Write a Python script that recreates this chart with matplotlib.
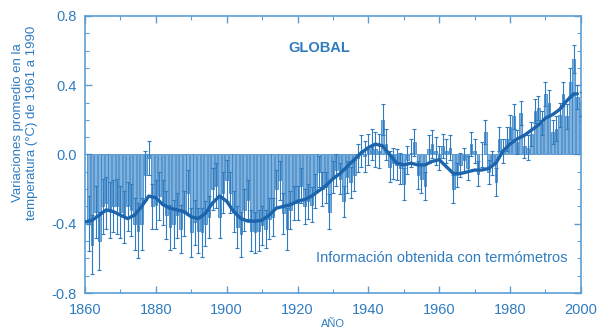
import matplotlib.pyplot as plt
import numpy as np

# annual global temperature anomalies (deg C, relative to 1961-1990), 1861-2000
years = list(range(1861, 2001))
anomaly = [
    -0.40, -0.52, -0.33, -0.50, -0.30, -0.28, -0.32, -0.30, -0.30, -0.33,
    -0.36, -0.30, -0.32, -0.40, -0.44, -0.40, -0.12, -0.02, -0.30, -0.29,
    -0.24, -0.28, -0.35, -0.42, -0.40, -0.35, -0.43, -0.34, -0.22, -0.45,
    -0.39, -0.44, -0.45, -0.40, -0.36, -0.20, -0.18, -0.36, -0.22, -0.15,
    -0.22, -0.33, -0.42, -0.46, -0.32, -0.26, -0.44, -0.45, -0.44, -0.41,
    -0.43, -0.37, -0.36, -0.20, -0.15, -0.34, -0.43, -0.32, -0.28, -0.28,
    -0.18, -0.30, -0.27, -0.29, -0.21, -0.10, -0.20, -0.19, -0.33, -0.13,
    -0.09, -0.14, -0.27, -0.13, -0.16, -0.12, -0.02, 0.02, -0.01, 0.03,
    0.06, 0.03, 0.02, 0.20, 0.06, -0.07, -0.05, -0.06, -0.08, -0.17,
    -0.03, 0.01, 0.07, -0.12, -0.14, -0.18, 0.03, 0.06, 0.02, -0.02,
    0.05, 0.02, 0.04, -0.20, -0.12, -0.06, -0.03, -0.08, 0.06, 0.02,
    -0.11, 0.00, 0.13, -0.10, -0.05, -0.16, 0.09, 0.02, 0.09, 0.16,
    0.22, 0.07, 0.24, 0.05, 0.04, 0.12, 0.25, 0.27, 0.18, 0.35,
    0.30, 0.13, 0.15, 0.23, 0.35, 0.22, 0.42, 0.55, 0.33, 0.29,
]
# half-width of the uncertainty range for each year
uncert = [
    0.16, 0.17, 0.15, 0.17, 0.16, 0.15, 0.16, 0.15, 0.16, 0.15,
    0.15, 0.14, 0.15, 0.15, 0.16, 0.15, 0.14, 0.10, 0.13, 0.14,
    0.14, 0.13, 0.14, 0.13, 0.14, 0.13, 0.14, 0.13, 0.13, 0.14,
    0.13, 0.13, 0.14, 0.13, 0.12, 0.12, 0.13, 0.12, 0.12, 0.12,
    0.12, 0.12, 0.12, 0.13, 0.12, 0.11, 0.12, 0.12, 0.12, 0.11,
    0.11, 0.12, 0.11, 0.11, 0.11, 0.12, 0.12, 0.11, 0.10, 0.10,
    0.10, 0.10, 0.10, 0.10, 0.10, 0.09, 0.10, 0.09, 0.10, 0.09,
    0.09, 0.09, 0.09, 0.09, 0.09, 0.09, 0.08, 0.09, 0.09, 0.09,
    0.09, 0.10, 0.10, 0.09, 0.09, 0.09, 0.09, 0.09, 0.09, 0.09,
    0.08, 0.08, 0.08, 0.08, 0.08, 0.08, 0.08, 0.08, 0.08, 0.07,
    0.07, 0.07, 0.07, 0.08, 0.07, 0.07, 0.07, 0.07, 0.07, 0.07,
    0.07, 0.07, 0.07, 0.07, 0.07, 0.08, 0.07, 0.07, 0.07, 0.07,
    0.07, 0.07, 0.07, 0.07, 0.07, 0.07, 0.07, 0.07, 0.07, 0.07,
    0.07, 0.07, 0.07, 0.07, 0.07, 0.07, 0.08, 0.08, 0.07, 0.07,
]

# smoothed curve
smooth_years = [
    1860, 1862, 1864, 1866, 1868, 1870, 1872, 1874, 1876, 1878,
    1880, 1882, 1884, 1886, 1888, 1890, 1892, 1894, 1896, 1898,
    1900, 1902, 1904, 1906, 1908, 1910, 1912, 1914, 1916, 1918,
    1920, 1922, 1924, 1926, 1928, 1930, 1932, 1934, 1936, 1938,
    1940, 1942, 1944, 1946, 1948, 1950, 1952, 1954, 1956, 1958,
    1960, 1962, 1964, 1966, 1968, 1970, 1972, 1974, 1976, 1978,
    1980, 1982, 1984, 1986, 1988, 1990, 1992, 1994, 1996, 1998, 1999,
]
smooth_vals = [
    -0.39, -0.38, -0.35, -0.32, -0.33, -0.35, -0.37, -0.35, -0.30, -0.24,
    -0.25, -0.29, -0.31, -0.32, -0.33, -0.36, -0.37, -0.34, -0.28, -0.24,
    -0.27, -0.33, -0.37, -0.385, -0.385, -0.38, -0.35, -0.31, -0.30, -0.29,
    -0.27, -0.26, -0.24, -0.21, -0.18, -0.14, -0.11, -0.07, -0.03, 0.01,
    0.04, 0.06, 0.05, 0.00, -0.05, -0.06, -0.05, -0.06, -0.06, -0.04,
    -0.03, -0.07, -0.11, -0.11, -0.10, -0.09, -0.09, -0.08, -0.05, 0.02,
    0.06, 0.09, 0.11, 0.14, 0.17, 0.21, 0.23, 0.26, 0.31, 0.35, 0.35,
]

BLUE = "#2f7cc0"
LIGHT = "#7fb2df"
DARK = "#1c64ab"

plt.rcParams["font.family"] = ["Liberation Sans", "DejaVu Sans"]

fig = plt.figure(figsize=(5.97, 3.31), dpi=100)
ax = fig.add_axes([0.1424, 0.1148, 0.8306, 0.8369])

ax.bar(years, anomaly, width=0.75, color=LIGHT, edgecolor=BLUE, linewidth=0.5, zorder=2)
ax.errorbar(years, anomaly, yerr=uncert, fmt="none", ecolor=BLUE,
            elinewidth=0.8, capsize=1.5, capthick=0.8, zorder=3)
ax.plot(smooth_years, smooth_vals, color=DARK, linewidth=2.4, zorder=4,
        solid_capstyle="round", solid_joinstyle="round")

ax.set_xlim(1860, 2000)
ax.set_ylim(-0.8, 0.8)
ax.set_xticks(range(1860, 2001, 20))
ax.set_xticks(range(1860, 2001, 10), minor=True)
ax.set_yticks([-0.8, -0.4, 0.0, 0.4, 0.8])
ax.set_yticklabels(["-0.8", "-0.4", "0.0", "0.4", "0.8"])
ax.set_yticks(np.arange(-0.8, 0.81, 0.1), minor=True)

for s in ax.spines.values():
    s.set_color("#5c9fd6")
    s.set_linewidth(1.2)
ax.tick_params(which="both", direction="in", top=True, right=True,
               colors="#5c9fd6", labelcolor=BLUE, labelsize=10.5)
ax.tick_params(which="major", length=5, width=1.0)
ax.tick_params(which="minor", length=3, width=0.8)
ax.tick_params(axis="x", pad=7)
ax.tick_params(axis="y", pad=6)

ax.text(0.472, 0.885, "GLOBAL", transform=ax.transAxes, color=BLUE,
        fontsize=10.5, fontweight="bold", ha="center", va="center")
ax.text(0.72, 0.125, "Información obtenida con termómetros", transform=ax.transAxes,
        color=BLUE, fontsize=10.5, ha="center", va="center")

fig.text(0.042, 0.63, "Variaciones promedio en la\ntemperatura (°C) de 1961 a 1990",
         rotation=90, color=BLUE, fontsize=9.5, ha="center", va="center",
         linespacing=1.25)
fig.text(0.557, 1 - 319 / 331, "AÑO", color=BLUE, fontsize=8,
         ha="center", va="top")

fig.savefig("out.png", dpi=100)
